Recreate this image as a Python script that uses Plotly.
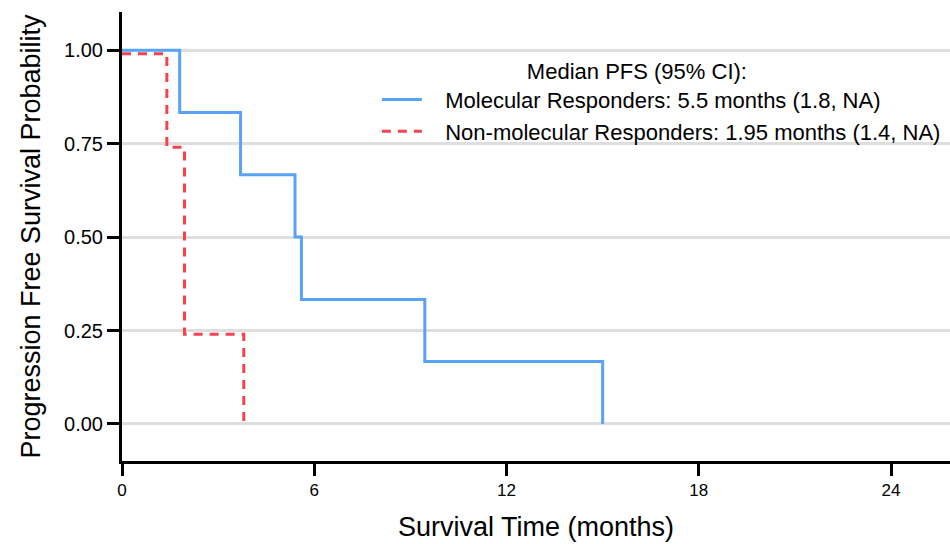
import plotly.graph_objects as go

# Kaplan-Meier step data
mol_time = [0, 1.8, 3.7, 5.4, 5.6, 9.45, 15.0]
mol_surv = [1.0, 0.833, 0.667, 0.5, 0.333, 0.167, 0.0]

non_time = [0, 1.4, 1.95, 3.8]
non_surv = [0.99, 0.74, 0.24, 0.0]

x_ticks = [0, 6, 12, 18, 24]
y_ticks = [0.0, 0.25, 0.5, 0.75, 1.0]
y_ticklabels = ["0.00", "0.25", "0.50", "0.75", "1.00"]

mol_label = "Molecular Responders: 5.5 months (1.8, NA)"
non_label = "Non-molecular Responders: 1.95 months (1.4, NA)"
legend_title = "Median PFS (95% CI):"

pad = "\u00a0\u00a0\u00a0"

fig = go.Figure()
fig.add_trace(go.Scatter(x=mol_time, y=mol_surv, mode="lines", line_shape="hv",
                         line=dict(color="#59A3F7", width=3), name=pad + mol_label))
fig.add_trace(go.Scatter(x=non_time, y=non_surv, mode="lines", line_shape="hv",
                         line=dict(color="#F2444A", width=3, dash="9px,7px"), name=pad + non_label))

font = "Liberation Sans, Arial, sans-serif"
fig.update_layout(
    width=950, height=544,
    margin=dict(l=122, r=0, t=12, b=83),
    plot_bgcolor="white", paper_bgcolor="white",
    font=dict(family=font, color="black"),
    legend=dict(
        title=dict(text=legend_title + "\u00a0" * 8, side="top center", font=dict(size=22)),
        font=dict(size=22),
        x=0.995, xanchor="right", y=0.915, yanchor="top",
        bgcolor="rgba(255,255,255,0)",
        tracegroupgap=0, itemwidth=40,
    ),
    xaxis=dict(
        range=[0, 25.84], tickvals=x_ticks, showgrid=False, zeroline=False,
        showline=True, linecolor="black", linewidth=3,
        ticks="outside", ticklen=12, tickwidth=3, tickcolor="black",
        tickfont=dict(size=17), title=dict(text="Survival Time (months)", font=dict(size=27), standoff=18),
    ),
    yaxis=dict(
        range=[-0.099, 1.102], tickvals=y_ticks, ticktext=y_ticklabels,
        showgrid=True, gridcolor="#DEDEDE", gridwidth=2.5, zeroline=False,
        showline=True, linecolor="black", linewidth=3,
        ticks="outside", ticklen=12, tickwidth=3, tickcolor="black",
        tickfont=dict(size=20), title=dict(text="Progression Free Survival Probability", font=dict(size=27), standoff=16),
    ),
)

fig.write_html(
    "out.html",
    config={"displayModeBar": False},
    post_script="document.body.style.margin='0';document.body.style.overflow='hidden';",
)
